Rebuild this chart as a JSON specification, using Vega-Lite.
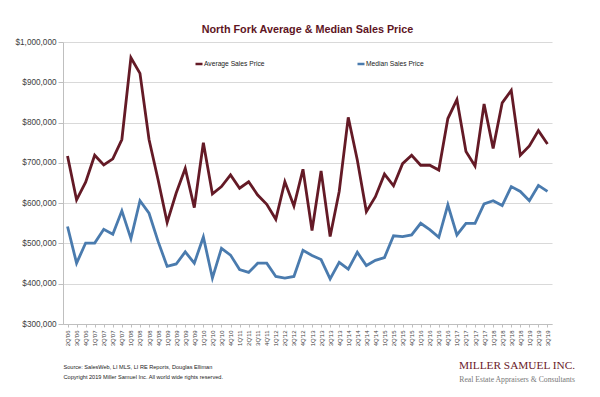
{
  "$schema": "https://vega.github.io/schema/vega-lite/v6.json",
  "width": 489,
  "height": 282,
  "autosize": {"type": "none"},
  "padding": {"left": 63, "top": 42, "right": 48, "bottom": 73},
  "background": "#ffffff",
  "title": {
    "text": "MILLER SAMUEL INC.",
    "subtitle": "Real Estate Appraisers & Consultants",
    "orient": "bottom",
    "anchor": "end",
    "frame": "group",
    "dx": 23,
    "dy": -24,
    "font": "Liberation Serif",
    "fontSize": 11.3,
    "fontWeight": "normal",
    "color": "#6b1a2a",
    "subtitleFont": "Liberation Serif",
    "subtitleFontSize": 7.7,
    "subtitleColor": "#777777",
    "subtitlePadding": 5
  },
  "data": {
    "values": [
      {"q": "2Q'06", "Average Sales Price": 717000, "Median Sales Price": 542000},
      {"q": "3Q'06", "Average Sales Price": 608000, "Median Sales Price": 451000},
      {"q": "4Q'06", "Average Sales Price": 652000, "Median Sales Price": 501000},
      {"q": "1Q'07", "Average Sales Price": 719000, "Median Sales Price": 501000},
      {"q": "2Q'07", "Average Sales Price": 695000, "Median Sales Price": 535000},
      {"q": "3Q'07", "Average Sales Price": 710000, "Median Sales Price": 523000},
      {"q": "4Q'07", "Average Sales Price": 758000, "Median Sales Price": 581000},
      {"q": "1Q'08", "Average Sales Price": 961000, "Median Sales Price": 512000},
      {"q": "2Q'08", "Average Sales Price": 922000, "Median Sales Price": 606000},
      {"q": "3Q'08", "Average Sales Price": 758000, "Median Sales Price": 575000},
      {"q": "4Q'08", "Average Sales Price": 658000, "Median Sales Price": 505000},
      {"q": "1Q'09", "Average Sales Price": 552000, "Median Sales Price": 443000},
      {"q": "2Q'09", "Average Sales Price": 625000, "Median Sales Price": 449000},
      {"q": "3Q'09", "Average Sales Price": 686000, "Median Sales Price": 479000},
      {"q": "4Q'09", "Average Sales Price": 589000, "Median Sales Price": 451000},
      {"q": "1Q'10", "Average Sales Price": 750000, "Median Sales Price": 516000},
      {"q": "2Q'10", "Average Sales Price": 623000, "Median Sales Price": 414000},
      {"q": "3Q'10", "Average Sales Price": 641000, "Median Sales Price": 488000},
      {"q": "4Q'10", "Average Sales Price": 670000, "Median Sales Price": 471000},
      {"q": "1Q'11", "Average Sales Price": 637000, "Median Sales Price": 435000},
      {"q": "2Q'11", "Average Sales Price": 653000, "Median Sales Price": 428000},
      {"q": "3Q'11", "Average Sales Price": 620000, "Median Sales Price": 451000},
      {"q": "4Q'11", "Average Sales Price": 597000, "Median Sales Price": 451000},
      {"q": "1Q'12", "Average Sales Price": 560000, "Median Sales Price": 418000},
      {"q": "2Q'12", "Average Sales Price": 653000, "Median Sales Price": 414000},
      {"q": "3Q'12", "Average Sales Price": 593000, "Median Sales Price": 418000},
      {"q": "4Q'12", "Average Sales Price": 684000, "Median Sales Price": 483000},
      {"q": "1Q'13", "Average Sales Price": 532000, "Median Sales Price": 470000},
      {"q": "2Q'13", "Average Sales Price": 680000, "Median Sales Price": 460000},
      {"q": "3Q'13", "Average Sales Price": 517000, "Median Sales Price": 412000},
      {"q": "4Q'13", "Average Sales Price": 629000, "Median Sales Price": 453000},
      {"q": "1Q'14", "Average Sales Price": 813000, "Median Sales Price": 436000},
      {"q": "2Q'14", "Average Sales Price": 707000, "Median Sales Price": 478000},
      {"q": "3Q'14", "Average Sales Price": 579000, "Median Sales Price": 445000},
      {"q": "4Q'14", "Average Sales Price": 616000, "Median Sales Price": 458000},
      {"q": "1Q'15", "Average Sales Price": 672000, "Median Sales Price": 465000},
      {"q": "2Q'15", "Average Sales Price": 643000, "Median Sales Price": 519000},
      {"q": "3Q'15", "Average Sales Price": 698000, "Median Sales Price": 517000},
      {"q": "4Q'15", "Average Sales Price": 719000, "Median Sales Price": 521000},
      {"q": "1Q'16", "Average Sales Price": 694000, "Median Sales Price": 550000},
      {"q": "2Q'16", "Average Sales Price": 694000, "Median Sales Price": 534000},
      {"q": "3Q'16", "Average Sales Price": 682000, "Median Sales Price": 515000},
      {"q": "4Q'16", "Average Sales Price": 810000, "Median Sales Price": 596000},
      {"q": "1Q'17", "Average Sales Price": 857000, "Median Sales Price": 521000},
      {"q": "2Q'17", "Average Sales Price": 728000, "Median Sales Price": 550000},
      {"q": "3Q'17", "Average Sales Price": 692000, "Median Sales Price": 550000},
      {"q": "4Q'17", "Average Sales Price": 846000, "Median Sales Price": 598000},
      {"q": "1Q'18", "Average Sales Price": 736000, "Median Sales Price": 606000},
      {"q": "2Q'18", "Average Sales Price": 849000, "Median Sales Price": 594000},
      {"q": "3Q'18", "Average Sales Price": 880000, "Median Sales Price": 641000},
      {"q": "4Q'18", "Average Sales Price": 719000, "Median Sales Price": 629000},
      {"q": "1Q'19", "Average Sales Price": 742000, "Median Sales Price": 606000},
      {"q": "2Q'19", "Average Sales Price": 780000, "Median Sales Price": 644000},
      {"q": "3Q'19", "Average Sales Price": 747000, "Median Sales Price": 629000}
    ]
  },
  "transform": [
    {"fold": ["Average Sales Price", "Median Sales Price"], "as": ["series", "price"]}
  ],
  "mark": {"type": "line", "strokeWidth": 2.8},
  "encoding": {
    "x": {
      "field": "q",
      "type": "ordinal",
      "sort": null,
      "axis": {
        "title": ["Source: SalesWeb, LI MLS, LI RE Reports, Douglas Elliman", "Copyright 2019 Miller Samuel Inc.  All world wide rights reserved."],
        "titleFont": "Liberation Sans",
        "titleFontSize": 5.6,
        "titleFontWeight": "normal",
        "titleColor": "#222222",
        "titleAnchor": "start",
        "titleAlign": "left",
        "titleBaseline": "top",
        "titleX": 0,
        "titleY": 40,
        "titleLineHeight": 10,
        "labelAngle": 270,
        "labelFont": "Liberation Sans",
        "labelFontSize": 6,
        "labelColor": "#404040",
        "labelPadding": 3,
        "labelOverlap": false,
        "tickSize": 3,
        "tickColor": "#bfbfbf",
        "domainColor": "#bfbfbf",
        "grid": false
      }
    },
    "y": {
      "field": "price",
      "type": "quantitative",
      "scale": {"domain": [300000, 1000000], "nice": false, "zero": false},
      "axis": {
        "values": [300000, 400000, 500000, 600000, 700000, 800000, 900000, 1000000],
        "format": "$,.0f",
        "title": "North Fork Average & Median Sales Price",
        "titleAngle": 0,
        "titleAlign": "center",
        "titleBaseline": "middle",
        "titleX": 244,
        "titleY": -13,
        "titleFont": "Liberation Sans",
        "titleFontSize": 10.8,
        "titleFontWeight": "bold",
        "titleColor": "#5e1524",
        "labelFont": "Liberation Sans",
        "labelFontSize": 8.2,
        "labelColor": "#404040",
        "labelPadding": 2,
        "tickSize": 5,
        "tickColor": "#bfbfbf",
        "domainColor": "#bfbfbf",
        "gridColor": "#d9d9d9",
        "grid": true
      }
    },
    "color": {
      "field": "series",
      "type": "nominal",
      "scale": {
        "domain": ["Average Sales Price", "Median Sales Price"],
        "range": ["#641a26", "#4a7bae"]
      },
      "legend": {
        "title": null,
        "orient": "none",
        "legendX": 131,
        "legendY": 17,
        "direction": "horizontal",
        "symbolType": "stroke",
        "symbolSize": 49,
        "symbolStrokeWidth": 2.5,
        "labelFont": "Liberation Sans",
        "labelFontSize": 6.7,
        "labelColor": "#222222",
        "labelOffset": 0,
        "columnPadding": 87,
        "padding": 0
      }
    }
  },
  "config": {
    "view": {"stroke": null}
  }
}
